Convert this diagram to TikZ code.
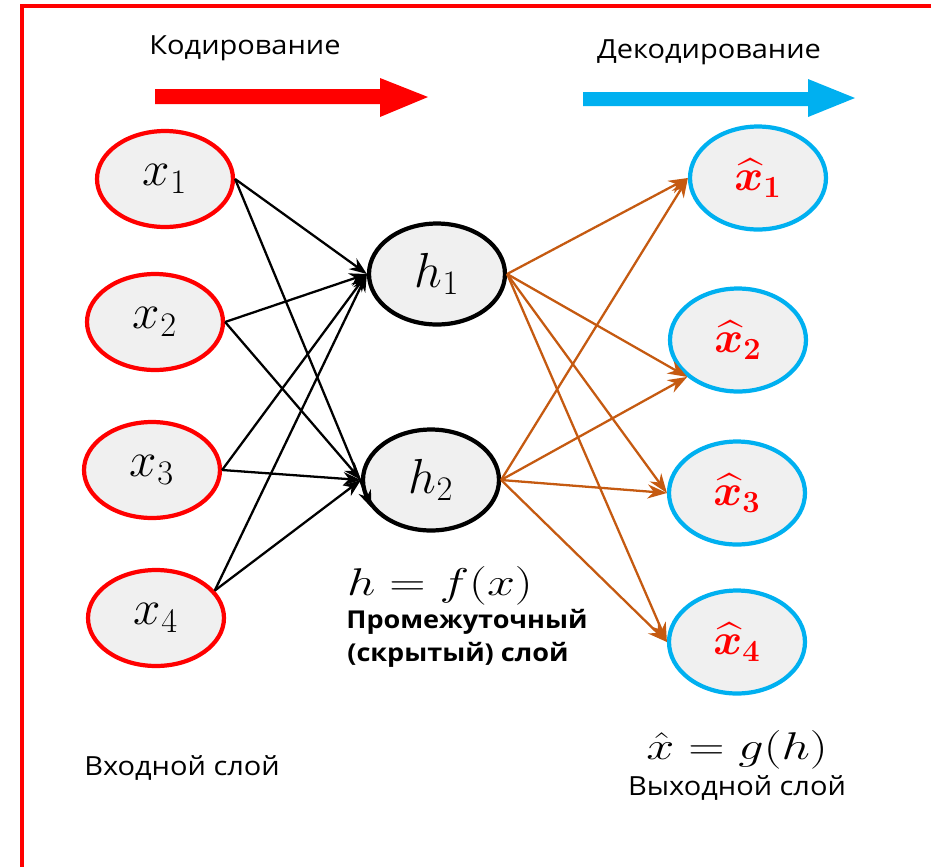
\RequirePackage{fix-cm}
\documentclass[tikz,border=0pt]{standalone}
\usepackage{amsmath,bm}
\usepackage[no-math]{fontspec}
\setmainfont{Open Sans}
\usetikzlibrary{shapes.geometric,arrows.meta}
\definecolor{nodefill}{HTML}{F0F0F0}
\definecolor{encred}{HTML}{FF0000}
\definecolor{decblue}{HTML}{00B0F0}
\definecolor{edgeorange}{HTML}{C55A11}
\newcommand{\sx}[2]{\scalebox{#1}[1]{#2}}
\begin{document}
\begin{tikzpicture}[x=0.02cm,y=-0.02cm,
  neuron/.style={ellipse, fill=nodefill, line width=2.4pt, inner sep=0pt,
    minimum width=2.72cm, minimum height=1.92cm, font=\fontsize{28}{32}\selectfont},
  inneuron/.style={neuron, draw=encred},
  hidneuron/.style={neuron, draw=black, minimum height=2.02cm},
  outneuron/.style={neuron, draw=decblue, minimum height=2.06cm, text=encred,
    font=\fontsize{25}{30}\selectfont},
  encedge/.style={line width=1.3pt, -{Stealth[length=10pt,width=7.5pt]}},
  decedge/.style={line width=1.3pt, draw=edgeorange, -{Stealth[length=11pt,width=8pt]}},
  lbl/.style={font=\fontsize{15}{18}\selectfont, inner sep=0pt},
  boldlbl/.style={font=\bfseries\fontsize{14}{17}\selectfont, inner sep=0pt},
  mathlbl/.style={font=\fontsize{22}{26}\selectfont, inner sep=0pt},
]
\useasboundingbox (0,0) rectangle (931,867);
% frame
\draw[encred, line width=2pt] (931,6) -- (22,6) -- (22,867);

% block arrows
\fill[encred] (155,89) -- (380,89) -- (380,78) -- (428,97) -- (380,117) -- (380,104) -- (155,104) -- cycle;
\fill[decblue] (583,92) -- (808,92) -- (808,79) -- (855,98) -- (808,117) -- (808,106) -- (583,106) -- cycle;
\node[lbl] (enc) at (245,48) {\sx{1.1}{Кодирование}};
\node[lbl] (dec) at (709,52) {\sx{1.1}{Декодирование}};

% neurons
\node[inneuron] (x1) at (165,179) {$x_1$\hspace{6pt}};
\node[inneuron] (x2) at (155,322) {$x_2$\hspace{6pt}};
\node[inneuron] (x3) at (152,470) {$x_3$\hspace{6pt}};
\node[inneuron] (x4) at (156,618) {$x_4$\hspace{6pt}};
\node[hidneuron] (h1) at (437,274) {$h_1$};
\node[hidneuron] (h2) at (431,480) {$h_2$};
\node[outneuron] (o1) at (758,178) {$\bm{\widehat{x}}_{\bm{1}}$};
\node[outneuron] (o2) at (738,340) {$\bm{\widehat{x}}_{\bm{2}}$};
\node[outneuron] (o3) at (737,493) {$\bm{\widehat{x}}_{\bm{3}}$};
\node[outneuron] (o4) at (737,642) {$\bm{\widehat{x}}_{\bm{4}}$};

% encoder edges
\draw[encedge] (x1.east) -- (h1.west);
\draw[encedge] (x1.east) -- (h2.205);
\draw[encedge] (x2.east) -- (h1.west);
\draw[encedge] (x2.east) -- (h2.west);
\draw[encedge] (x3.east) -- (h1.west);
\draw[encedge] (x3.east) -- (h2.west);
\draw[encedge] (x4.25) -- (h1.west);
\draw[encedge] (x4.25) -- (h2.west);

% decoder edges
\draw[decedge] (h1.east) -- (o1.west);
\draw[decedge] (h1.east) -- (o2.216);
\draw[decedge] (h1.east) -- (o3.west);
\draw[decedge] (h1.east) -- (o4.west);
\draw[decedge] (h2.east) -- (o1.west);
\draw[decedge] (h2.east) -- (o2.216);
\draw[decedge] (h2.east) -- (o3.west);
\draw[decedge] (h2.east) -- (o4.west);

% labels
\node[mathlbl] (hf) at (440,586) {\sx{1.3}{$h = f(x)$}};
\node[boldlbl, anchor=west] (mid1) at (346,622) {\sx{1.1}{Промежуточный}};
\node[boldlbl, anchor=west] (mid2) at (347,655) {\sx{1.1}{(скрытый) слой}};
\node[lbl] (inl) at (182,768) {\sx{1.1}{Входной слой}};
\node[mathlbl] (gh) at (737,750) {\sx{1.3}{$\hat{x} = g(h)$}};
\node[lbl] (outl) at (737,788) {\sx{1.1}{Выходной слой}};
\end{tikzpicture}
\end{document}
